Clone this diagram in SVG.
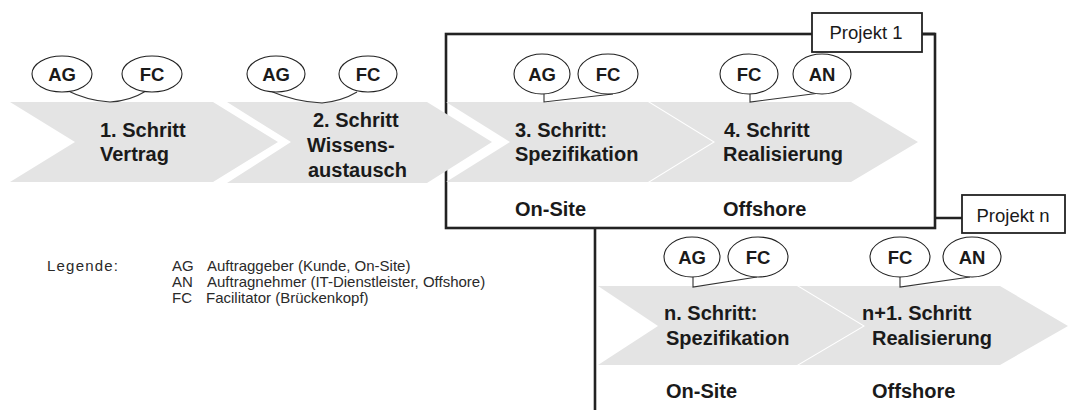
<svg xmlns="http://www.w3.org/2000/svg" width="1071" height="410" viewBox="0 0 1071 410">
  <style>
    .bg { fill: #ffffff; }
    .step { fill: #e4e4e4; stroke: none; }
    .frame { fill: none; stroke: #222; stroke-width: 2.6; }
    .frame-fill { fill: #ffffff; stroke: #222; stroke-width: 2.6; }
    .tag { fill: #ffffff; stroke: #222; stroke-width: 1.8; }
    .role { fill: #ffffff; stroke: #222; stroke-width: 1.1; }
    .link { fill: none; stroke: #333; stroke-width: 1.1; }
    .t { font-family: "Liberation Sans", Arial, sans-serif; fill: #1a1a1a; }
    .b20 { font-size: 20px; font-weight: bold; }
    .b18 { font-size: 18.5px; font-weight: bold; }
    .r18 { font-size: 18.5px; }
    .r15 { font-size: 15px; fill: #2a2a2a; }
    .wide { letter-spacing: 1.2px; }
    .mid { text-anchor: middle; }
  </style>

  <rect class="bg" x="0" y="0" width="1071" height="410"/>

  <!-- project frames: project n sits behind project 1 -->
  <g id="projekt-n-frame">
    <path class="frame" d="M962,218 H595 V412"/>
  </g>
  <g id="projekt-1-frame">
    <rect class="frame-fill" x="446" y="34" width="489" height="194"/>
  </g>

  <!-- process steps (chevrons) -->
  <g id="schritt-1">
    <polygon class="step" points="10,102 213,102 278,142 213,182 10,182 75,142"/>
    <text class="t b20" x="100" y="137">1. Schritt</text>
    <text class="t b20" x="100" y="161">Vertrag</text>
  </g>
  <g id="schritt-2">
    <polygon class="step" points="227,102 427,102 492,142 427,183 227,183 291,142"/>
    <text class="t b20" x="313" y="127">2. Schritt</text>
    <text class="t b20" x="307" y="152">Wissens-</text>
    <text class="t b20" x="308" y="177">austausch</text>
  </g>
  <g id="schritt-3">
    <polygon class="step" points="446,102 648,102 713,142 648,182 446,182 510,142"/>
    <text class="t b20" x="515" y="137">3. Schritt:</text>
    <text class="t b20" x="515" y="161">Spezifikation</text>
    <text class="t b20" x="515" y="216">On-Site</text>
  </g>
  <g id="schritt-4">
    <polygon class="step" points="650,102 851,102 918,142 851,182 650,182 715,142"/>
    <text class="t b20" x="724" y="137">4. Schritt</text>
    <text class="t b20" x="723" y="161">Realisierung</text>
    <text class="t b20" x="723" y="216">Offshore</text>
  </g>
  <g id="schritt-n">
    <polygon class="step" points="598,286 797,286 863,326 797,365 598,365 658,326"/>
    <text class="t b20" x="664" y="320">n. Schritt:</text>
    <text class="t b20" x="666" y="345">Spezifikation</text>
    <text class="t b20" x="666" y="398">On-Site</text>
  </g>
  <g id="schritt-n1">
    <polygon class="step" points="799,286 1000,286 1068,326 1000,365 799,365 865,326"/>
    <text class="t b20" x="862" y="320">n+1. Schritt</text>
    <text class="t b20" x="872" y="345">Realisierung</text>
    <text class="t b20" x="872" y="398">Offshore</text>
  </g>

  <!-- project labels -->
  <g id="projekt-1-label">
    <path class="frame" d="M922,34 H935"/>
    <rect class="tag" x="812" y="13" width="110" height="39"/>
    <text class="t r18 mid" x="866" y="39">Projekt 1</text>
  </g>
  <g id="projekt-n-label">
    <rect class="tag" x="962" y="195" width="103" height="38"/>
    <text class="t r18 mid" x="1013" y="222">Projekt n</text>
  </g>

  <!-- connectors joining the role bubbles to their step -->
  <g id="connectors">
    <path class="link" d="M66,90 Q88,101 110,102 Q130,101 146,91"/>
    <path class="link" d="M270,91 Q296,102 322,103 Q342,101 357,92"/>
    <path class="link" d="M544,94 V102 L613,94"/>
    <path class="link" d="M750,94 V102 L820,93"/>
    <path class="link" d="M693,277 V287 L757,277"/>
    <path class="link" d="M900,277 V287 L970,277"/>
  </g>

  <!-- role bubbles -->
  <g id="rollen-1">
    <ellipse class="role" cx="62" cy="74" rx="30" ry="18"/>
    <text class="t b18 mid" x="62" y="81">AG</text>
    <ellipse class="role" cx="152" cy="74" rx="30" ry="18"/>
    <text class="t b18 mid" x="152" y="81">FC</text>
  </g>
  <g id="rollen-2">
    <ellipse class="role" cx="276" cy="74" rx="29" ry="18"/>
    <text class="t b18 mid" x="276" y="81">AG</text>
    <ellipse class="role" cx="368" cy="74" rx="29" ry="18"/>
    <text class="t b18 mid" x="368" y="81">FC</text>
  </g>
  <g id="rollen-3">
    <ellipse class="role" cx="542" cy="74" rx="28" ry="20"/>
    <text class="t b18 mid" x="542" y="81">AG</text>
    <ellipse class="role" cx="608" cy="74" rx="30" ry="20"/>
    <text class="t b18 mid" x="608" y="81">FC</text>
  </g>
  <g id="rollen-4">
    <ellipse class="role" cx="749" cy="74" rx="29" ry="20"/>
    <text class="t b18 mid" x="749" y="81">FC</text>
    <ellipse class="role" cx="822" cy="74" rx="29" ry="20"/>
    <text class="t b18 mid" x="822" y="81">AN</text>
  </g>
  <g id="rollen-n">
    <ellipse class="role" cx="692" cy="257" rx="28" ry="20"/>
    <text class="t b18 mid" x="692" y="264">AG</text>
    <ellipse class="role" cx="758" cy="257" rx="30" ry="20"/>
    <text class="t b18 mid" x="758" y="264">FC</text>
  </g>
  <g id="rollen-n1">
    <ellipse class="role" cx="900" cy="257" rx="30" ry="20"/>
    <text class="t b18 mid" x="900" y="264">FC</text>
    <ellipse class="role" cx="972" cy="257" rx="29" ry="20"/>
    <text class="t b18 mid" x="972" y="264">AN</text>
  </g>

  <!-- legend -->
  <g id="legende">
    <text class="t r15 wide" x="47" y="271">Legende:</text>
    <text class="t r15" x="172" y="271">AG</text>
    <text class="t r15" x="207" y="271">Auftraggeber (Kunde, On-Site)</text>
    <text class="t r15" x="172" y="287">AN</text>
    <text class="t r15" x="207" y="287">Auftragnehmer (IT-Dienstleister, Offshore)</text>
    <text class="t r15" x="172" y="303">FC</text>
    <text class="t r15" x="206" y="303">Facilitator (Brückenkopf)</text>
  </g>
</svg>
